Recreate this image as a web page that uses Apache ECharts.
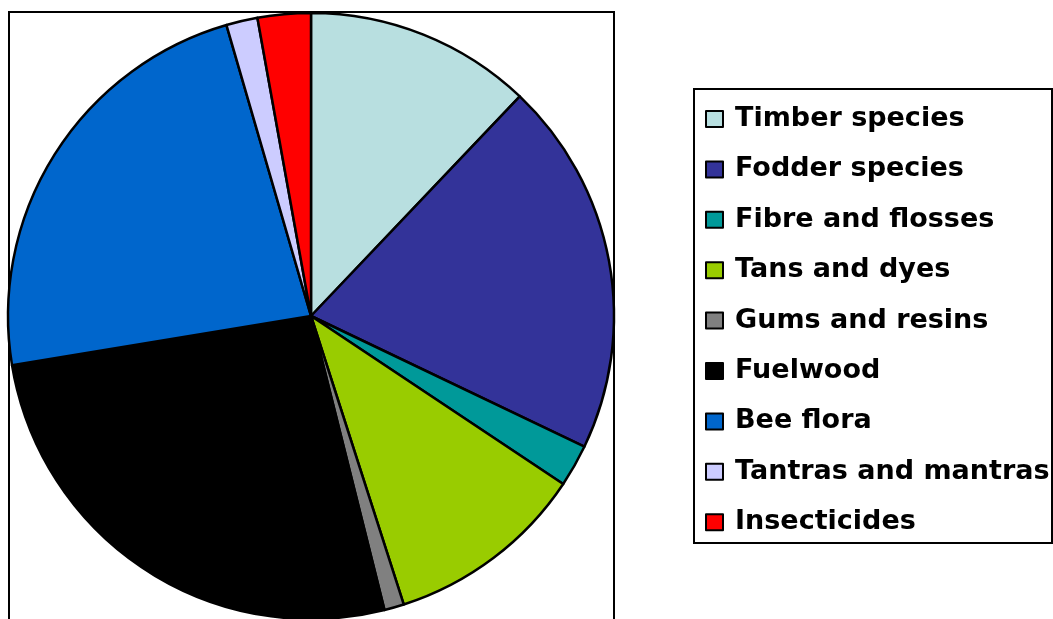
<!DOCTYPE html>
<html><head><meta charset="utf-8">
<script src="https://cdn.jsdelivr.net/npm/echarts@6/dist/echarts.min.js"></script>
<style>html,body{margin:0;padding:0;background:#fff}#c{width:1053px;height:619px}</style>
</head><body><div id="c"></div>
<script>
const categories = ["Timber species","Fodder species","Fibre and flosses","Tans and dyes","Gums and resins","Fuelwood","Bee flora","Tantras and mantras","Insecticides"];
const values = [12.1, 20.0, 2.25, 10.7, 1.05, 26.3, 23.1, 1.67, 2.83];
const colors = ["#B8DFE0","#333399","#009999","#99CC00","#808080","#000000","#0066CC","#CCCCFF","#FF0000"];

const chart = echarts.init(document.getElementById('c'), null, {renderer:'canvas'});
chart.setOption({
  animation:false,
  color: colors,
  graphic:[
    {type:'rect', shape:{x:9, y:12, width:605, height:700}, style:{fill:'none', stroke:'#000', lineWidth:2}, z:-1},
    {type:'rect', shape:{x:694, y:89, width:358, height:454}, style:{fill:'#fff', stroke:'#000', lineWidth:2}, z:-1}
  ],
  legend:{
    orient:'vertical', left:705, top:104, padding:0,
    itemWidth:17, itemHeight:16, itemGap:20.4,
    icon:'rect',
    selectedMode:false,
    itemStyle:{borderColor:'#000', borderWidth:2},
    textStyle:{fontFamily:'DejaVu Sans, sans-serif', fontWeight:'bold', fontSize:27, color:'#000', lineHeight:30, padding:[0,0,0,7]},
    data: categories
  },
  series:[{
    type:'pie', center:[311,316], radius:303, startAngle:90, clockwise:true,
    label:{show:false}, labelLine:{show:false},
    itemStyle:{borderColor:'#000', borderWidth:2.5},
    emphasis:{disabled:true},
    data: categories.map((n,i)=>({name:n, value:values[i]}))
  }]
});
</script></body></html>
